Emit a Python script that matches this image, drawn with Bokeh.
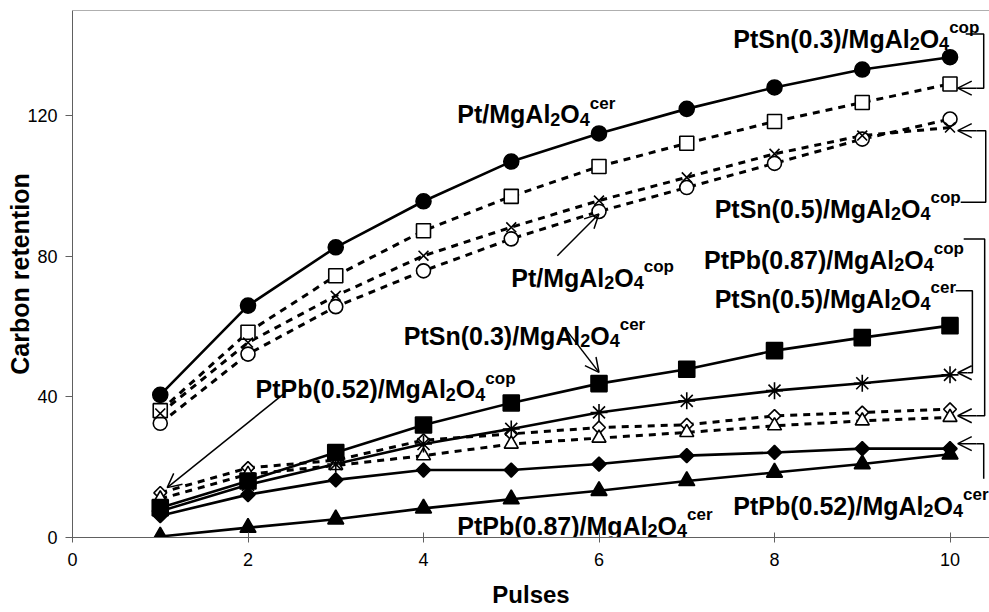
import math
from bokeh.plotting import figure
from bokeh.models import Range1d, Span, Arrow, OpenHead, ColumnDataSource, FixedTicker
from bokeh.embed import file_html
from bokeh.resources import INLINE

# ---------------- data ----------------
pulses = [1, 2, 3, 4, 5, 6, 7, 8, 9, 10]
pt_cer = [40.6, 66.0, 82.6, 95.7, 107.0, 115.0, 122.0, 128.1, 133.2, 136.7]
pt_cop = [32.5, 52.2, 65.7, 75.9, 85.0, 92.8, 99.6, 106.5, 113.4, 119.1]
ptsn03_cop = [36.1, 58.4, 74.5, 87.3, 97.1, 105.6, 112.2, 118.4, 123.8, 129.1]
ptsn05_cop = [35.3, 55.5, 68.8, 80.2, 88.3, 95.9, 102.5, 109.2, 114.4, 116.7]
ptsn03_cer = [8.5, 16.1, 24.2, 32.0, 38.3, 43.8, 47.9, 53.2, 56.9, 60.3]
ptsn05_cer = [7.5, 15.0, 20.9, 26.6, 30.9, 35.6, 38.9, 41.8, 43.9, 46.3]
ptpb087_cop = [12.7, 19.8, 22.0, 27.7, 29.5, 31.3, 32.1, 34.6, 35.6, 36.5]
ptpb052_cop = [11.0, 18.0, 20.5, 23.3, 26.6, 28.3, 29.9, 31.8, 33.2, 34.2]
ptpb052_cer = [6.2, 12.2, 16.4, 19.2, 19.2, 20.9, 23.3, 24.2, 25.3, 25.3]
ptpb087_cer = [0.3, 2.8, 5.2, 8.3, 10.9, 13.3, 16.1, 18.5, 20.9, 23.7]

x_ticks = [0, 2, 4, 6, 8, 10]
y_ticks = [0, 40, 80, 120]
x_title = "Pulses"
y_title = "Carbon retention"

# ---------------- figure ----------------
p = figure(width=989, height=612, output_backend="svg", toolbar_location=None,
           x_range=Range1d(0, 10.45), y_range=Range1d(0, 150),
           min_border_left=72, min_border_right=0, min_border_top=10, min_border_bottom=75)
p.outline_line_color = None
p.grid.visible = False
p.background_fill_color = "white"
p.border_fill_color = "white"

AX = "#606060"
for ax in (p.xaxis[0], p.yaxis[0]):
    ax.axis_line_color = AX
    ax.major_tick_line_color = AX
    ax.minor_tick_line_color = None
    ax.major_label_text_font = "Liberation Sans"
    ax.major_label_text_font_size = "18px"
    ax.major_label_text_color = "black"
    ax.axis_label_text_font = "Liberation Sans"
    ax.axis_label_text_font_style = "bold"
    ax.axis_label_text_color = "black"

p.xaxis.ticker = FixedTicker(ticks=x_ticks)
p.yaxis.ticker = FixedTicker(ticks=y_ticks)
p.xaxis.major_tick_in = 5
p.xaxis.major_tick_out = 5
p.yaxis.major_tick_in = 0
p.yaxis.major_tick_out = 7
p.xaxis.major_label_standoff = 10
p.yaxis.major_label_standoff = 8
p.xaxis.axis_label = x_title
p.yaxis.axis_label = y_title
p.xaxis.axis_label_text_font_size = "24px"
p.yaxis.axis_label_text_font_size = "25px"
p.xaxis.axis_label_standoff = 12
p.yaxis.axis_label_standoff = -10

p.add_layout(Span(location=150, dimension="width", line_color=AX, line_width=1))

# ---------------- lines ----------------
DASH = "7 6"
series = [
    # values, dashed, marker, size, filled, angle
    (pt_cop, True, "circle", 14, False, 0),
    (ptsn03_cop, True, "square", 14, False, 0),
    (ptsn05_cop, True, "x", 14, False, 0),
    (ptpb087_cop, True, "square", 9, False, math.pi / 4),
    (ptpb052_cop, True, "triangle", 14, False, 0),
    (pt_cer, False, "circle", 15, True, 0),
    (ptsn03_cer, False, "square", 16, True, 0),
    (ptsn05_cer, False, "asterisk", 17, False, 0),
    (ptpb052_cer, False, "square", 10, True, math.pi / 4),
    (ptpb087_cer, False, "triangle", 16, True, 0),
]
for vals, dashed, mk, sz, filled, ang in series:
    p.line(pulses, vals, line_color="black", line_width=3 if dashed else 2.6,
           line_dash=DASH if dashed else "solid")
for vals, dashed, mk, sz, filled, ang in series:
    p.scatter(pulses, vals, marker=mk, size=sz, angle=ang,
              fill_color="black" if filled else "white",
              line_color="black", line_width=1.6)

# ---------------- labels ----------------
W = {"(": 333, ")": 333, ".": 278, "/": 278, "A": 722, "M": 833, "O": 778,
     "P": 667, "S": 667, "b": 611, "c": 556, "e": 556, "g": 611, "l": 278,
     "n": 611, "o": 611, "p": 611, "r": 389, "t": 333}
for d in "0123456789":
    W[d] = 556


def tw(s, fs):
    return sum(W.get(c, 556) for c in s) * fs / 1000.0


BIG, SUB, SUP = 25, 18, 17
labels = [
    # base text, superscript, x (data), y (data)
    ("PtSn(0.3)/MgAl", "cop", 7.53, 142.0),
    ("Pt/MgAl", "cer", 4.385, 120.5),
    ("PtSn(0.5)/MgAl", "cop", 7.318, 93.6),
    ("Pt/MgAl", "cop", 5.0, 74.0),
    ("PtPb(0.87)/MgAl", "cop", 7.196, 79.0),
    ("PtSn(0.5)/MgAl", "cer", 7.318, 67.9),
    ("PtSn(0.3)/MgAl", "cer", 3.776, 57.4),
    ("PtPb(0.52)/MgAl", "cop", 2.086, 42.25),
    ("PtPb(0.52)/MgAl", "cer", 7.53, 9.0),
    ("PtPb(0.87)/MgAl", "cer", 4.385, 3.3),
]
tx, ty, tt, txo, tyo, tfs = [], [], [], [], [], []
for base, sup, lx, ly in labels:
    parts = [(base, BIG, 0), ("2", SUB, 5), ("O", BIG, 0), ("4", SUB, 5), (sup, SUP, -11)]
    off = 0.0
    for s, fs, yo in parts:
        tx.append(lx); ty.append(ly); tt.append(s)
        txo.append(off); tyo.append(yo); tfs.append(f"{fs}px")
        off += tw(s, fs)
src = ColumnDataSource(dict(x=tx, y=ty, text=tt, xo=txo, yo=tyo, fs=tfs))
p.text(x="x", y="y", text="text", x_offset="xo", y_offset="yo", text_font_size="fs",
       source=src, text_font={"value": "Liberation Sans"}, text_font_style="bold",
       text_color="black", text_align="left", text_baseline="alphabetic")

# ---------------- brackets & arrows ----------------
LW = 1.5
brackets_x = [
    [10.179, 10.384, 10.384, 10.30],
    [10.122, 10.407, 10.407, 10.30],
    [10.156, 10.395, 10.395, 10.30],
    [10.065, 10.255, 10.255, 10.20],
    [10.384, 10.384, 10.30],
]
brackets_y = [
    [143.3, 143.3, 127.9, 127.9],
    [95.4, 95.4, 115.8, 115.8],
    [84.95, 84.95, 34.65, 34.65],
    [70.2, 70.2, 46.9, 46.9],
    [16.7, 26.7, 26.7],
]
p.multi_line(brackets_x, brackets_y, line_color="black", line_width=LW)

arrows = [
    (10.30, 127.9, 10.088, 127.9),
    (10.30, 115.8, 10.088, 115.8),
    (10.30, 34.65, 10.088, 34.65),
    (10.20, 46.9, 10.088, 46.9),
    (10.30, 26.7, 10.088, 26.7),
    (5.525, 80.2, 5.999, 92.1),
    (5.62, 59.3, 6.0, 47.0),
    (2.428, 41.3, 1.079, 14.2),
]
for xs, ys, xe, ye in arrows:
    p.add_layout(Arrow(end=OpenHead(size=14, line_width=LW, line_color="black"),
                       x_start=xs, y_start=ys, x_end=xe, y_end=ye,
                       line_width=LW, line_color="black"))

open("out.html", "w").write(file_html(p, INLINE))
